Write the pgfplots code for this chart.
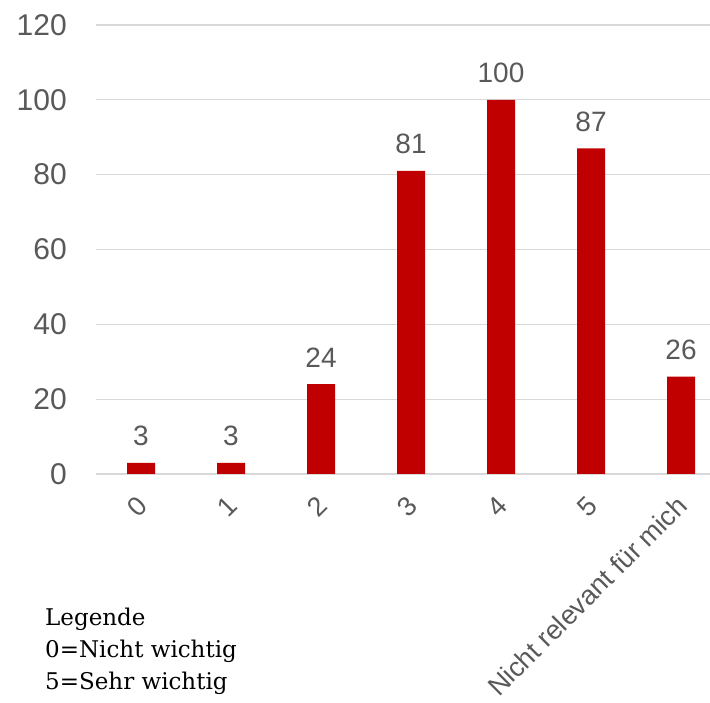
\documentclass[border=0pt]{standalone}
\usepackage{fontspec}
\setmainfont{Liberation Sans}
\newfontfamily\legendfont{DejaVu Serif}
\usepackage{pgfplots}
\pgfplotsset{compat=1.18}
\definecolor{barred}{HTML}{C00000}
\definecolor{labelgray}{HTML}{595959}
\definecolor{gridgray}{HTML}{D9D9D9}
\begin{document}
\begin{tikzpicture}[x=1pt,y=1pt]
\begin{axis}[
  at={(96pt,229pt)}, anchor=south west,
  scale only axis, width=614pt, height=449pt,
  xmin=-0.5, xmax=6.322, ymin=0, ymax=120,
  ytick={0,20,...,120},
  xtick={0,...,6},
  xticklabels={0,1,2,3,4,5,Nicht relevant für mich},
  axis x line*=bottom, axis y line*=left,
  x axis line style={gridgray, line width=1.2pt},
  y axis line style={draw=none},
  ymajorgrids, major grid style={gridgray, line width=1.2pt},
  major tick length=0pt,
  /pgf/number format/assume math mode=true,
  yticklabel style={font=\fontsize{30}{36}\selectfont, text=labelgray, anchor=east, inner sep=0pt, xshift=-29pt},
  xticklabel style={font=\fontsize{27}{32}\selectfont, text=labelgray, rotate=45, anchor=east, inner sep=0pt, xshift=-18pt, yshift=-20pt},
  ybar, bar width=28pt,
  nodes near coords,
  every node near coord/.append style={font=\fontsize{28}{34}\selectfont, text=labelgray, anchor=base, inner sep=0pt, yshift=17pt},
  clip=true,
]
\addplot[fill=barred, draw=none] coordinates {(0,3) (1,3) (2,24) (3,81) (4,100) (5,87) (6,26)};
\end{axis}
\node[anchor=base west, align=left, inner sep=0pt, font=\legendfont\fontsize{23}{32}\selectfont] at (45pt,13pt) {Legende\\0=Nicht wichtig\\5=Sehr wichtig};
\pgfresetboundingbox
\useasboundingbox (0,0) rectangle (710pt,703pt);
\end{tikzpicture}
\end{document}
